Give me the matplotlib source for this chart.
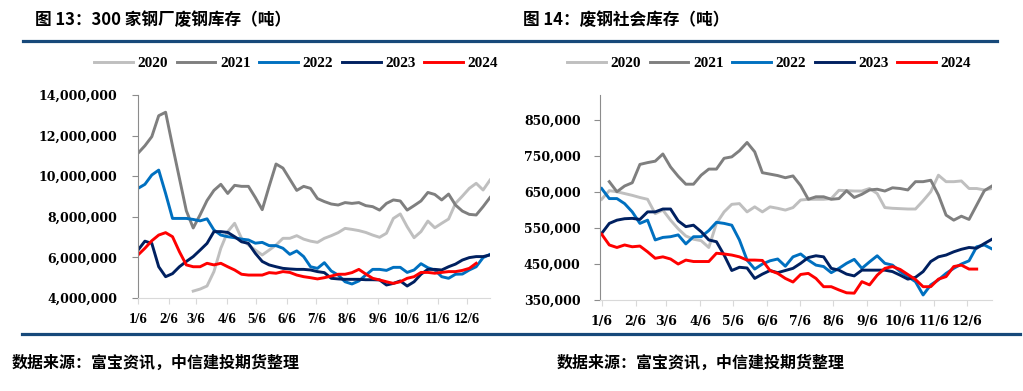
import numpy as np
import matplotlib
matplotlib.use('Agg')
import matplotlib.pyplot as plt
from matplotlib.lines import Line2D

nan = np.nan

years = ['2020', '2021', '2022', '2023', '2024']
colors = ['#BFBFBF', '#7F7F7F', '#0070C0', '#002060', '#FF0000']
month_labels = ['1/6', '2/6', '3/6', '4/6', '5/6', '6/6', '7/6', '8/6', '9/6', '10/6', '11/6', '12/6']

# 300家钢厂废钢库存, 百万吨, 每周一个点(从1/6开始)
mill_2020 = [nan, nan, nan, nan, nan, nan, nan, nan, 4.34, 4.44, 4.59, 5.3, 6.45, 7.27, 7.68, 6.94,
             6.61, 6.36, 6.12, 6.36, 6.61, 6.94, 6.94, 7.07, 6.9, 6.8, 6.74, 6.94, 7.07, 7.22, 7.43, 7.38,
             7.32, 7.23, 7.1, 6.99, 7.19, 7.92, 8.14, 7.51, 6.97, 7.27, 7.79, 7.46, 7.68, 7.89, 8.66, 9.02,
             9.4, 9.65, 9.32, 9.81]
mill_2021 = [11.13, 11.5, 11.95, 12.98, 13.15, 11.5, 9.9, 8.3, 7.45, 8.1, 8.8, 9.3, 9.6, 9.15, 9.55, 9.5,
             9.5, 8.95, 8.35, 9.5, 10.6, 10.4, 9.85, 9.3, 9.5, 9.4, 8.9, 8.75, 8.63, 8.58, 8.7, 8.66,
             8.7, 8.55, 8.5, 8.33, 8.66, 8.83, 8.78, 8.33, 8.55, 8.78, 9.2, 9.1, 8.83, 9.12, 8.58, 8.28,
             8.12, 8.09, 8.5, 8.95]
mill_2022 = [9.4, 9.6, 10.06, 10.3, 9.15, 7.92, 7.92, 7.92, 7.87, 7.8, 7.9, 7.35, 7.1, 7.02, 6.97, 6.9,
             6.86, 6.7, 6.74, 6.58, 6.58, 6.45, 6.15, 6.32, 6.04, 5.54, 5.46, 5.74, 5.33, 5.13, 4.8, 4.69,
             4.84, 5.13, 5.41, 5.41, 5.36, 5.51, 5.51, 5.26, 5.38, 5.69, 5.49, 5.38, 5.05, 4.97, 5.17, 5.18,
             5.38, 5.54, 5.99, 6.15]
mill_2023 = [6.36, 6.8, 6.69, 5.54, 5.05, 5.2, 5.54, 5.8, 6.04, 6.36, 6.69, 7.27, 7.27, 7.23, 7.02, 6.77,
             6.69, 6.2, 5.8, 5.63, 5.54, 5.46, 5.43, 5.41, 5.41, 5.38, 5.3, 5.25, 4.97, 4.94, 4.92, 4.92,
             4.92, 4.9, 4.9, 4.89, 4.64, 4.72, 4.84, 4.59, 4.8, 5.17, 5.41, 5.41, 5.38, 5.54, 5.67, 5.87,
             5.99, 6.04, 6.04, 6.12]
mill_2024 = [6.12, 6.45, 6.82, 7.1, 7.22, 7.02, 6.28, 5.63, 5.54, 5.54, 5.71, 5.63, 5.71, 5.54, 5.38, 5.17,
             5.13, 5.13, 5.13, 5.25, 5.22, 5.3, 5.26, 5.13, 5.05, 5.0, 4.94, 5.0, 5.08, 5.17, 5.17, 5.25,
             5.41, 5.18, 4.97, 4.89, 4.8, 4.72, 4.8, 4.97, 5.05, 5.26, 5.26, 5.22, 5.26, 5.3, 5.3, 5.36,
             5.46, 5.71, nan, nan]

# 废钢社会库存, 千吨
soc_2020 = [630, 654, 651, 646, 641, 635, 630, 590, 600, 572, 548, 528, 519, 515, 496, 563,
            595, 616, 618, 595, 609, 595, 609, 605, 600, 607, 628, 630, 630, 630, 632, 655,
            654, 653, 653, 660, 646, 607, 605, 604, 603, 603, 626, 651, 697, 679, 679, 681,
            660, 660, 656, 660]
soc_2021 = [nan, 679, 651, 667, 676, 727, 732, 736, 756, 720, 694, 672, 672, 697, 714, 714,
            744, 748, 765, 788, 762, 704, 700, 696, 690, 695, 668, 630, 637, 637, 630, 632,
            654, 635, 644, 656, 658, 653, 662, 660, 656, 679, 679, 683, 642, 586, 572, 583,
            574, 614, 654, 667]
soc_2022 = [660, 632, 632, 618, 595, 563, 572, 517, 524, 526, 531, 506, 526, 526, 543, 566,
            563, 558, 517, 461, 436, 450, 459, 464, 444, 470, 478, 461, 447, 443, 426, 438,
            452, 463, 438, 456, 473, 452, 447, 429, 415, 401, 364, 392, 406, 424, 438, 450,
            459, 498, 503, 492]
soc_2023 = [535, 563, 572, 576, 577, 574, 595, 595, 603, 603, 570, 554, 558, 540, 517, 512,
            475, 432, 441, 439, 410, 422, 432, 426, 432, 438, 452, 468, 473, 470, 438, 433,
            422, 417, 433, 433, 433, 433, 429, 419, 408, 413, 429, 457, 470, 475, 484, 491,
            496, 494, 507, 519]
soc_2024 = [533, 503, 496, 503, 498, 500, 484, 466, 470, 464, 450, 461, 457, 457, 457, 480,
            478, 475, 470, 461, 461, 460, 432, 424, 410, 400, 421, 424, 410, 387, 387, 378,
            370, 369, 401, 392, 419, 438, 443, 435, 421, 407, 387, 387, 408, 415, 443, 447,
            436, 436, nan, nan]

mill = [np.array(v) * 1e6 for v in [mill_2020, mill_2021, mill_2022, mill_2023, mill_2024]]
soc = [np.array(v) * 1e3 for v in [soc_2020, soc_2021, soc_2022, soc_2023, soc_2024]]

days = np.arange(52) * 7
start = np.datetime64('2023-01-06')
tick_days = np.array([(np.datetime64('2023-%02d-06' % m) - start).astype(int) for m in range(1, 13)])

plt.rcParams['font.family'] = ['Liberation Serif', 'Noto Sans CJK SC']
plt.rcParams['font.weight'] = 'bold'

W, H = 1023, 391
fig = plt.figure(figsize=(W / 100, H / 100), dpi=100)

def fx(px):
    return px / W

def fy(py):
    return 1 - py / H

def make_axes(rect, series, ylim, yticks, xlim, xfont, ypad):
    ax = fig.add_axes(rect)
    for s, c in zip(series, colors):
        ax.plot(days, s, color=c, lw=2.1, solid_joinstyle='round')
    ax.set_xlim(*xlim)
    ax.set_ylim(*ylim)
    ax.set_yticks(yticks)
    ax.set_yticklabels(['{:,.0f}'.format(v) for v in yticks], family='DejaVu Serif',
                       fontsize=9, weight='bold')
    ax.set_xticks(tick_days)
    ax.set_xticklabels(month_labels, **xfont)
    for sp in ['top', 'right']:
        ax.spines[sp].set_visible(False)
    ax.spines['left'].set_color('#8C8C8C')
    ax.spines['bottom'].set_color('#D9D9D9')
    ax.tick_params(axis='y', length=4, color='#8C8C8C', pad=ypad)
    ax.tick_params(axis='x', length=4, color='#D9D9D9', pad=7)
    return ax

ax1 = make_axes([fx(138), fy(298), fx(352), 203 / H], mill, (4e6, 14e6),
                np.arange(4e6, 14.1e6, 2e6), (0, 357),
                dict(family='Liberation Serif', fontsize=10.5, weight='bold'), 11)
ax2 = make_axes([fx(600), fy(300), fx(392), 205 / H], soc, (350000, 920000),
                np.arange(350000, 850001, 100000), (-1.5, 357),
                dict(family='DejaVu Serif', fontsize=9, weight='bold'), 10)

handles = [Line2D([], [], color=c, lw=2.1) for c in colors]
for cx in [296, 769]:
    fig.legend(handles, years, loc='center', bbox_to_anchor=(fx(cx), fy(63)), ncol=5,
               frameon=False, fontsize=11, handlelength=2.55, handletextpad=0.3,
               columnspacing=0.55, borderpad=0, borderaxespad=0)

cjk = ['Noto Sans CJK SC', 'DejaVu Sans']
fig.text(fx(35), fy(20), '图 13：300 家钢厂废钢库存（吨）', family=cjk, fontsize=12,
         weight='bold', va='center', ha='left')
fig.text(fx(523), fy(20), '图 14：废钢社会库存（吨）', family=cjk, fontsize=12,
         weight='bold', va='center', ha='left')
for x0 in [12, 557]:
    fig.text(fx(x0), fy(363), '数据来源：富宝资讯，中信建投期货整理', family=cjk, fontsize=11.5,
             weight='bold', va='center', ha='left')

fig.add_artist(Line2D([fx(23), fx(997)], [fy(40.5), fy(40.5)], color='#17497A', lw=2.3))
fig.add_artist(Line2D([fx(22), fx(1020)], [fy(334), fy(334)], color='#17497A', lw=2.3))

fig.savefig('out.png', dpi=100)
